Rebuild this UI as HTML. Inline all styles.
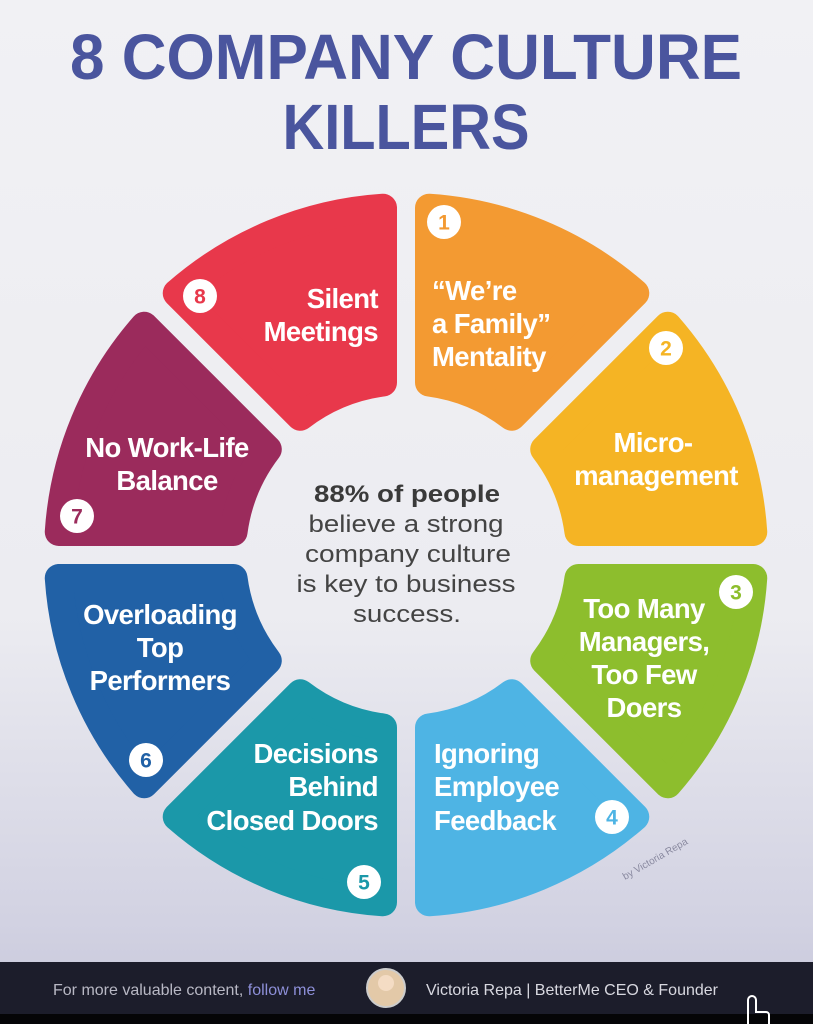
<!DOCTYPE html>
<html><head><meta charset="utf-8"><style>
html,body{margin:0;padding:0}
body{width:813px;height:1024px;overflow:hidden;background:linear-gradient(#f1f1f4 0%,#ececf1 60%,#d2d2e2 90%,#c6c6da 100%);position:relative;font-family:"Liberation Sans",sans-serif}
svg{position:absolute;left:0;top:0}
</style></head><body>
<svg id="s" width="813" height="1024" viewBox="0 0 813 1024" xmlns="http://www.w3.org/2000/svg">
<g id="segs"></g>
<g font-family="Liberation Sans, sans-serif" font-weight="bold" fill="#4a559e" font-size="64" text-anchor="middle">
<text x="406" y="79" textLength="672" lengthAdjust="spacingAndGlyphs">8 COMPANY CULTURE</text>
<text x="406" y="149" textLength="247" lengthAdjust="spacingAndGlyphs">KILLERS</text>
</g>
<g font-family="Liberation Sans, sans-serif" font-weight="bold" fill="#fff" font-size="27.5" letter-spacing="-0.6">
<text x="378" y="308" text-anchor="end">Silent</text>
<text x="378" y="341" text-anchor="end">Meetings</text>
<text x="432" y="300">“We’re</text>
<text x="432" y="333">a Family”</text>
<text x="432" y="366">Mentality</text>
<text x="653" y="452" text-anchor="middle">Micro-</text>
<text x="656" y="485" text-anchor="middle">management</text>
<text x="644" y="618" text-anchor="middle">Too Many</text>
<text x="644" y="651" text-anchor="middle">Managers,</text>
<text x="644" y="684" text-anchor="middle">Too Few</text>
<text x="644" y="717" text-anchor="middle">Doers</text>
<text x="434" y="763">Ignoring</text>
<text x="434" y="796">Employee</text>
<text x="434" y="830">Feedback</text>
<text x="378" y="763" text-anchor="end">Decisions</text>
<text x="378" y="796" text-anchor="end">Behind</text>
<text x="378" y="830" text-anchor="end">Closed Doors</text>
<text x="160" y="624" text-anchor="middle">Overloading</text>
<text x="160" y="657" text-anchor="middle">Top</text>
<text x="160" y="690" text-anchor="middle">Performers</text>
<text x="167" y="457" text-anchor="middle">No Work-Life</text>
<text x="167" y="490" text-anchor="middle">Balance</text>
</g>
<g id="badges" font-family="Liberation Sans, sans-serif" font-weight="bold" font-size="21" text-anchor="middle"></g>
<g font-family="Liberation Sans, sans-serif" font-size="24" fill="#444" text-anchor="middle" lengthAdjust="spacingAndGlyphs">
<text x="407" y="502" font-weight="bold" fill="#3a3a3a" textLength="186" lengthAdjust="spacingAndGlyphs">88% of people</text>
<text x="406" y="532" textLength="195" lengthAdjust="spacingAndGlyphs">believe a strong</text>
<text x="408" y="562" textLength="206" lengthAdjust="spacingAndGlyphs">company culture</text>
<text x="406" y="592" textLength="219" lengthAdjust="spacingAndGlyphs">is key to business</text>
<text x="407" y="622" textLength="108" lengthAdjust="spacingAndGlyphs">success.</text>
</g>
<text x="625" y="880" font-family="Liberation Sans, sans-serif" font-size="10" fill="#8a8aa0" transform="rotate(-30 625 880)">by Victoria Repa</text>
<rect x="0" y="962" width="813" height="52" fill="#1c1d2b"/>
<rect x="0" y="1014" width="813" height="10" fill="#050507"/>
<g font-family="Liberation Sans, sans-serif" font-size="16">
<text x="53" y="995" fill="#b8b8c4">For more valuable content, <tspan fill="#8d8fd8">follow me</tspan></text>
<text x="426" y="995" fill="#d8d8e0">Victoria Repa |  BetterMe CEO &amp; Founder</text>
</g>
<circle cx="386" cy="988" r="19" fill="#e3c9a8" stroke="#ccc" stroke-width="2"/>
<circle cx="386" cy="983" r="8" fill="#f4dcc4"/>
<path d="M748 1024 V1000 a4 4 0 0 1 8 0 V1012 h10 a3 3 0 0 1 3 3 V1024" fill="none" stroke="#fff" stroke-width="2"/>
</svg>
<script>
(function(){
var cx=406,cy=555,RO=362,RI=160,rc=14,d=23;
var cols={1:"#f39a32",2:"#f5b424",3:"#8dbe2d",4:"#4eb4e4",5:"#1b98a9",6:"#2161a6",7:"#9b2b5c",8:"#e8384b"};
var ns="http://www.w3.org/2000/svg";
function pt(a,r){var t=a*Math.PI/180;return [cx+r*Math.sin(t),cy-r*Math.cos(t)];}
var g=document.getElementById("segs");
for(var n=1;n<=8;n++){
 var a0=(n-1)*45,a1=n*45,Ro=RO-rc,Ri=RI+rc;
 var so=Math.asin(d/Ro)*180/Math.PI,si=Math.asin(d/Ri)*180/Math.PI;
 var p1=pt(a0+so,Ro),p2=pt(a1-so,Ro),p3=pt(a1-si,Ri),p4=pt(a0+si,Ri);
 var dd="M"+p1+" A"+Ro+" "+Ro+" 0 0 1 "+p2+" L"+p3+" A"+Ri+" "+Ri+" 0 0 0 "+p4+" Z";
 var p=document.createElementNS(ns,"path");
 p.setAttribute("d",dd);p.setAttribute("fill",cols[n]);p.setAttribute("stroke",cols[n]);
 p.setAttribute("stroke-width",2*rc);p.setAttribute("stroke-linejoin","round");
 g.appendChild(p);
}
var b=[[1,444,222],[2,666,348],[3,736,592],[4,612,817],[5,364,882],[6,146,760],[7,77,516],[8,200,296]];
var bg=document.getElementById("badges");
b.forEach(function(x){
 var c=document.createElementNS(ns,"circle");c.setAttribute("cx",x[1]);c.setAttribute("cy",x[2]);c.setAttribute("r",17);c.setAttribute("fill","#fff");bg.appendChild(c);
 var t=document.createElementNS(ns,"text");t.setAttribute("x",x[1]);t.setAttribute("y",x[2]+7.5);t.setAttribute("fill",cols[x[0]]);t.textContent=x[0];bg.appendChild(t);
});
})();
</script>
</body></html>
